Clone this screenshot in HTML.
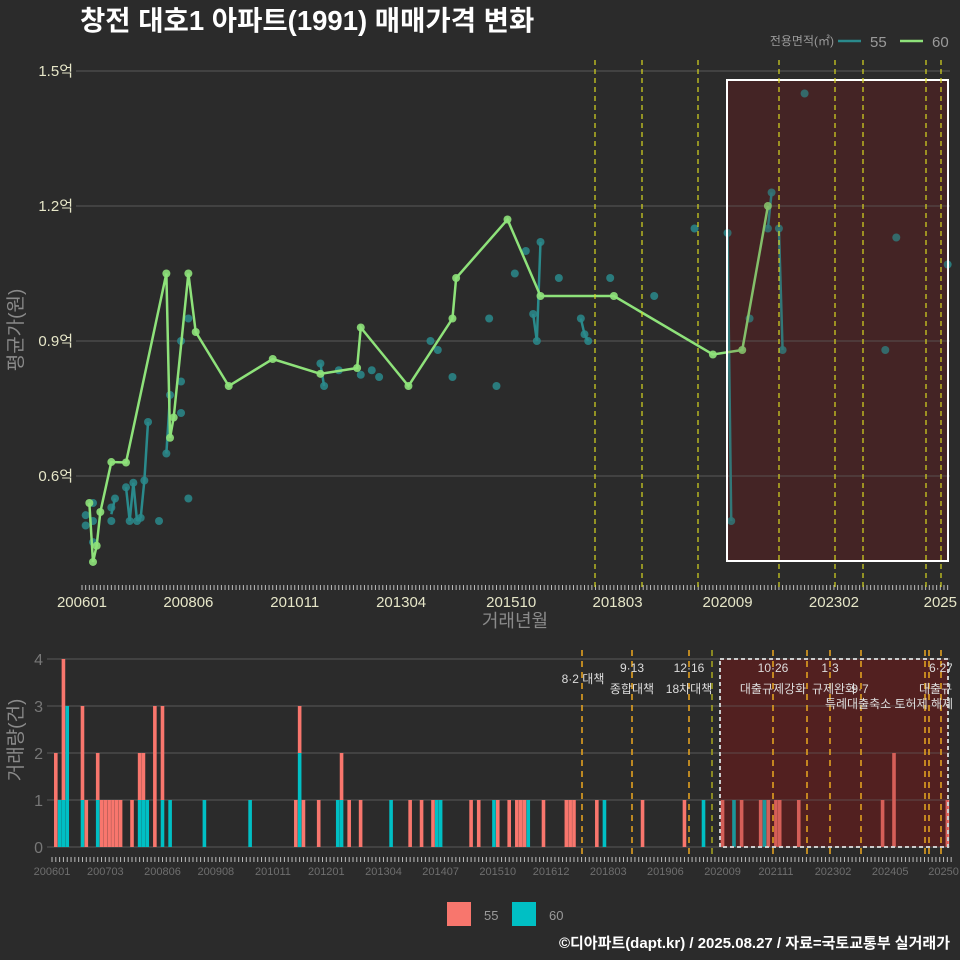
<!DOCTYPE html>
<html><head><meta charset="utf-8">
<style>
html,body{margin:0;padding:0;background:#2b2b2b;}
svg{display:block;font-family:"Liberation Sans","Noto Sans CJK KR",sans-serif;}
</style></head>
<body>
<svg id="chart" width="960" height="960" viewBox="0 0 960 960">
<defs><clipPath id="annClip"><rect x="0" y="640" width="952" height="100"/></clipPath></defs>
<rect x="0" y="0" width="960" height="960" fill="#2b2b2b"/>
<text x="80" y="30" font-size="27.5" font-weight="bold" fill="#ffffff">창전 대호1 아파트(1991) 매매가격 변화</text>
<text x="834" y="45" font-size="12" fill="#9a9a9a" text-anchor="end">전용면적(㎡)</text>
<line x1="838" y1="41" x2="861" y2="41" stroke="#2a8a8c" stroke-width="2.5"/>
<text x="870" y="47" font-size="15" fill="#9a9a9a">55</text>
<line x1="900" y1="41" x2="923" y2="41" stroke="#8ee27a" stroke-width="2.5"/>
<text x="932" y="47" font-size="15" fill="#9a9a9a">60</text>
<g id="topPanel"></g>
<g id="botPanel"></g>
<rect x="447" y="902" width="24" height="24" fill="#f8766d"/>
<text x="484" y="920" font-size="13" fill="#9a9a9a">55</text>
<rect x="512" y="902" width="24" height="24" fill="#00bfc4"/>
<text x="549" y="920" font-size="13" fill="#9a9a9a">60</text>
<text x="950" y="948" font-size="15" font-weight="bold" fill="#ffffff" text-anchor="end">©디아파트(dapt.kr) / 2025.08.27 / 자료=국토교통부 실거래가</text>
</svg>
<script>
// ---- data ----
const greenMonths = ["2006-03","2006-04","2006-05","2006-06","2006-09","2007-01","2007-12","2008-01","2008-02","2008-06","2008-08","2009-05","2010-05","2011-06","2012-04","2012-05","2013-06","2014-06","2014-07","2015-09","2016-06","2018-02","2020-05","2021-01","2021-08"];
const greenValues = [0.54,0.409,0.445,0.52,0.631,0.63,1.05,0.685,0.73,1.05,0.92,0.80,0.86,0.827,0.84,0.93,0.80,0.95,1.04,1.17,1.0,1.0,0.87,0.88,1.2];
const tealMonths = ["2006-02","2006-02","2006-04","2006-04","2006-04","2006-09","2006-09","2006-10","2007-01","2007-02","2007-03","2007-04","2007-05","2007-06","2007-07","2007-10","2007-12","2008-01","2008-04","2008-04","2008-04","2008-06","2008-06","2011-06","2011-07","2011-11","2012-05","2012-08","2012-10","2013-12","2014-02","2014-06","2015-04","2015-06","2015-11","2016-02","2016-04","2016-05","2016-06","2016-11","2017-05","2017-06","2017-07","2018-01","2019-01","2019-12","2020-09","2020-10","2021-03","2021-08","2021-09","2021-11","2021-12","2022-06","2024-04","2024-07","2025-09"];
const tealValues = [0.513,0.49,0.54,0.50,0.453,0.53,0.50,0.55,0.575,0.50,0.585,0.50,0.507,0.59,0.72,0.50,0.65,0.78,0.74,0.81,0.90,0.95,0.55,0.85,0.80,0.835,0.825,0.835,0.82,0.90,0.88,0.82,0.95,0.80,1.05,1.10,0.96,0.90,1.12,1.04,0.95,0.915,0.90,1.04,1.0,1.15,1.14,0.50,0.95,1.15,1.23,1.15,0.88,1.45,0.88,1.13,1.07];
const priceTicks = [0.6,0.9,1.2,1.5];
const priceTickLabels = ["0.6억","0.9억","1.2억","1.5억"];
const topXLabels = ["200601","200806","201011","201304","201510","201803","202009","202302","2025"];
const topXMonths = [0,29,58,87,117,146,176,205,234];
const volMonths = [1,2,3,4,8,9,12,13,14,15,16,17,18,21,23,24,25,27,29,31,40,52,64,65,66,70,75,76,78,81,89,94,97,100,101,102,110,112,116,117,120,122,123,124,125,129,135,136,137,143,145,155,166,171,176,179,181,186,187,188,190,191,196,218,221,235];
const vol55 =   [2,0,3,0,2,1,1,1,1,1,1,1,1,1,1,1,0,3,2,0,0,0,1,1,1,1,0,1,1,1,0,1,1,1,0,0,1,1,0,1,1,1,1,1,0,1,1,1,1,1,0,1,1,0,1,0,1,1,0,1,1,1,1,1,2,1];
const vol60 =   [0,1,1,3,1,0,1,0,0,0,0,0,0,0,1,1,1,0,1,1,1,1,0,2,0,0,1,1,0,0,1,0,0,0,1,1,0,0,1,0,0,0,0,0,1,0,0,0,0,0,1,0,0,1,0,1,0,0,1,0,0,0,0,0,0,0];
const volTicks = [0,1,2,3,4];
const botXLabels = ["200601","200703","200806","200908","201011","201201","201304","201407","201510","201612","201803","201906","202009","202111","202302","202405","20250"];
const botXMonths = [0,14,29,43,58,72,87,102,117,131,146,161,176,190,205,220,234];
const topPolicyX = [595,642,698,779,835,863,926,941];
const botPolicyX = [582,632,689,712,773,807,830,861,925,929,941];

// ---- scales ----
const NS="http://www.w3.org/2000/svg";
function mIdx(s){const [y,m]=s.split("-").map(Number);return (y-2006)*12+(m-1);}
const xT = m => 82 + 3.668*m;
const yT = v => 476 - (v-0.6)*450;
const xB = m => 52 + 3.81*m;
const yB = v => 847 - v*47;
function mk(parent,tag,attrs,text){const e=document.createElementNS(NS,tag);for(const k in attrs)e.setAttribute(k,attrs[k]);if(text!==undefined)e.textContent=text;parent.appendChild(e);return e;}
const topG=document.getElementById("topPanel"), botG=document.getElementById("botPanel");

// ---- top panel ----
let hlb=mk(topG,"rect",{x:727,y:80,width:221,height:481,fill:"#5a1f22","fill-opacity":0.45});


priceTicks.forEach((v,i)=>{
  let g=mk(topG,"line",{x1:76,x2:950,y1:yT(v),y2:yT(v),stroke:"#5a5a5a","stroke-width":1});
  
  
  let t=mk(topG,"text",{x:73,y:yT(v)+5,"font-size":15,fill:"#e6e6c8","text-anchor":"end"},priceTickLabels[i]);
  
  
});
for(let m=0;m<=236;m++){
  let l=mk(topG,"line",{x1:xT(m),x2:xT(m),y1:585,y2:590,stroke:"#bbbbbb","stroke-width":1});
  
  
}
topXLabels.forEach((s,i)=>{
  let t=mk(topG,"text",{x:xT(topXMonths[i]),y:607,"font-size":15,fill:"#e6e6c8","text-anchor":"middle"},s);
  
  
});
let xt=mk(topG,"text",{x:515,y:627,"font-size":18,fill:"#8a8a8a","text-anchor":"middle"},"거래년월");


let yt=mk(topG,"text",{x:0,y:0,"font-size":19,fill:"#8a8a8a","text-anchor":"middle",transform:"translate(22,330) rotate(-90)"},"평균가(원)");



const tm={};tealMonths.forEach((s,i)=>{const m=mIdx(s);(tm[m]=tm[m]||[]).push(tealValues[i]);});
const tk=Object.keys(tm).map(Number).sort((a,b)=>a-b);
for(let i=1;i<tk.length;i++){
  if(tk[i]-tk[i-1]<=1){
    const a=tm[tk[i-1]],b=tm[tk[i]];
    const va=a.reduce((p,c)=>p+c,0)/a.length, vb=b.reduce((p,c)=>p+c,0)/b.length;
    let l=mk(topG,"line",{x1:xT(tk[i-1]),y1:yT(va),x2:xT(tk[i]),y2:yT(vb),stroke:"#2a8a8c","stroke-width":2.5});
    
    
  }
}
tealMonths.forEach((s,i)=>{
  let c=mk(topG,"circle",{cx:xT(mIdx(s)),cy:yT(tealValues[i]),r:4,fill:"#2a8a8c","fill-opacity":0.85});
  
  
});
let pts=greenMonths.map((s,i)=>xT(mIdx(s))+","+yT(greenValues[i])).join(" ");
let pl=mk(topG,"polyline",{points:pts,fill:"none",stroke:"#8ee27a","stroke-width":2.5});


greenMonths.forEach((s,i)=>{
  let c=mk(topG,"circle",{cx:xT(mIdx(s)),cy:yT(greenValues[i]),r:4,fill:"#8ee27a","fill-opacity":0.9});
  
  
});
let hl=mk(topG,"rect",{x:727,y:80,width:221,height:481,fill:"#5a1f22","fill-opacity":0.18,stroke:"#ffffff","stroke-width":2});


topPolicyX.forEach(x=>{
  let l=mk(topG,"line",{x1:x,x2:x,y1:60,y2:590,stroke:"#d8d820","stroke-width":1.2,"stroke-dasharray":"5,4"});
  
  
});

// ---- bottom panel ----
let hbb=mk(botG,"rect",{x:720,y:659,width:228,height:188,fill:"#6a1a1a","fill-opacity":0.5});


volTicks.forEach(v=>{
  let g=mk(botG,"line",{x1:47,x2:950,y1:yB(v),y2:yB(v),stroke:"#5a5a5a","stroke-width":1});
  
  
  let t=mk(botG,"text",{x:43,y:yB(v)+6,"font-size":16,fill:"#777777","text-anchor":"end"},String(v));
  
  
});
volMonths.forEach((m,i)=>{
  const x=xB(m)-1.8;
  if(vol60[i]>0){
    let r=mk(botG,"rect",{x:x,y:yB(vol60[i]),width:3.6,height:yB(0)-yB(vol60[i]),fill:"#00bfc4"});
    
    
  }
  if(vol55[i]>0){
    let r=mk(botG,"rect",{x:x,y:yB(vol60[i]+vol55[i]),width:3.6,height:yB(vol60[i])-yB(vol60[i]+vol55[i]),fill:"#f8766d"});
    
    
  }
});
let hb=mk(botG,"rect",{x:720,y:659,width:228,height:188,fill:"#6a1a1a","fill-opacity":0.25,stroke:"#cccccc","stroke-width":2,"stroke-dasharray":"4,3"});


botPolicyX.forEach((x,i)=>{
  let l=mk(botG,"line",{x1:x,x2:x,y1:650,y2:855,stroke:i===3?"#a0a020":"#e0a020","stroke-width":1.6,"stroke-dasharray":"6,5"});
  
  
});
const annG=mk(botG,"g",{"clip-path":"url(#annClip)"});


const ann=[[583,683,"8·2 대책","middle"],[632,672,"9·13","middle"],[632,693,"종합대책","middle"],[689,672,"12·16","middle"],[689,693,"18차대책","middle"],[773,672,"10·26","middle"],[773,693,"대출규제강화","middle"],[830,672,"1·3","middle"],[834,693,"규제완화","middle"],[860,693,"9·7","middle"],[889,708,"특례대출축소 토허제 해제","middle"],[941,672,"6·27","middle"],[919,693,"대출규제","start"]];
ann.forEach(a=>{
  let t=mk(annG,"text",{x:a[0],y:a[1],"font-size":12,fill:"#dddddd","text-anchor":a[3]},a[2]);
  
  
});
for(let m=0;m<=236;m++){
  let l=mk(botG,"line",{x1:xB(m),x2:xB(m),y1:857,y2:862,stroke:"#bbbbbb","stroke-width":1});
  
  
}
botXLabels.forEach((s,i)=>{
  let t=mk(botG,"text",{x:xB(botXMonths[i]),y:875,"font-size":11,fill:"#6e6e6e","text-anchor":"middle"},s);
  
  
});
let vt=mk(botG,"text",{x:0,y:0,"font-size":19,fill:"#8a8a8a","text-anchor":"middle",transform:"translate(22,740) rotate(-90)"},"거래량(건)");


</script>
</body></html>
